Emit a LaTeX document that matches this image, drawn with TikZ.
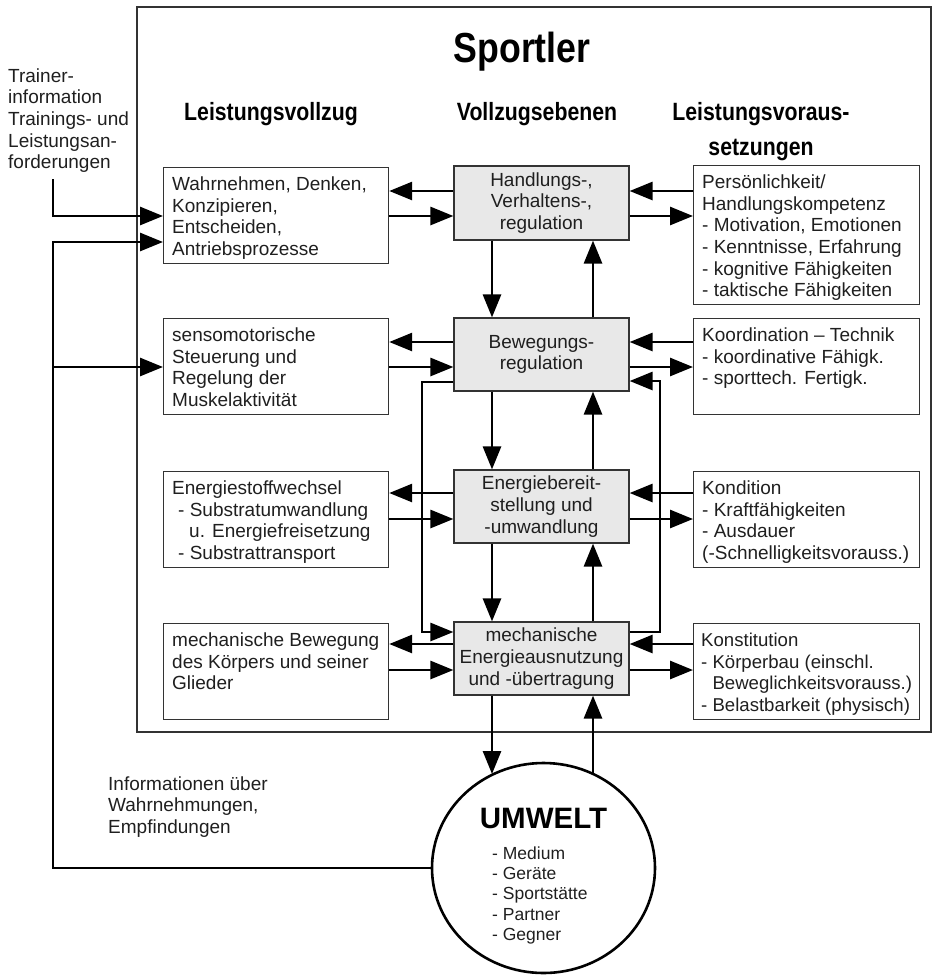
\documentclass[tikz,border=0pt]{standalone}
\usepackage{fontspec}
\setmainfont{Liberation Sans}
\newfontfamily\condfont[FakeStretch=0.85]{Liberation Sans}
\usetikzlibrary{arrows.meta,shapes.geometric}
\begin{document}
\begin{tikzpicture}[x=1pt,y=-1pt,line join=miter,
  frame/.style={draw=black!80,line width=1.5pt},
  lbox/.style={draw=black!80,line width=1.2pt,anchor=north west,inner sep=0pt,minimum width=225pt,minimum height=96pt},
  rbox/.style={draw=black!80,line width=1.2pt,anchor=north west,inner sep=0pt,minimum width=226pt},
  cbox/.style={draw=black!80,line width=1.2pt,fill=black!9,inner sep=0pt,minimum width=175pt,minimum height=73pt,align=center,
    font=\fontsize{19}{21.7}\selectfont,text=black!88},
  txt/.style={anchor=north west,inner sep=0pt,align=left,font=\fontsize{19}{21.7}\selectfont,text=black!88},
  head/.style={inner sep=0pt,anchor=base,font=\condfont\bfseries\fontsize{25}{35}\selectfont},
  arr/.style={line width=2.8pt,-{Triangle[length=23pt,width=18pt]}},
  fline/.style={line width=2.8pt}]
\useasboundingbox (0,0) rectangle (933,975);
% frame
\draw[frame] (137,7) rectangle (931,732);
% titles
\node[head,font=\condfont\bfseries\fontsize{42}{44}\selectfont] (title) at (522,62) {Sportler};
\node[head] (h1) at (271,120) {Leistungsvollzug};
\node[head] (h2) at (537,120) {Vollzugsebenen};
\node[head,anchor=north,align=center] (h3) at (761,95.5) {\strut Leistungsvoraus-\\setzungen};
% left boxes
\node[lbox] (L1) at (163,167) {};
\node[lbox] (L2) at (163,318) {};
\node[lbox] (L3) at (163,471) {};
\node[lbox] (L4) at (163,623) {};
\node[txt] (L1t) at ([shift={(9,8)}]L1.north west) {\strut Wahrnehmen, Denken,\\Konzipieren,\\Entscheiden,\\Antriebsprozesse};
\node[txt] (L2t) at ([shift={(9,8)}]L2.north west) {\strut sensomotorische\\Steuerung und\\Regelung der\\Muskelaktivität};
\node[txt] (L3t) at ([shift={(9,8)}]L3.north west) {\strut Energiestoffwechsel\\\hspace*{6pt}- Substratumwandlung\\\hspace*{17pt}u. Energiefreisetzung\\\hspace*{6pt}- Substrattransport};
\node[txt] (L4t) at ([shift={(9,8)}]L4.north west) {\strut mechanische Bewegung\\des Körpers und seiner\\Glieder};
% center boxes
\node[cbox,minimum height=74pt] (C1) at (541.5,203) {Handlungs-,\\Verhaltens-,\\regulation};
\node[cbox] (C2) at (541.5,354.5) {Bewegungs-\\regulation};
\node[cbox] (C3) at (541.5,506.5) {Energiebereit-\\stellung und\\-umwandlung};
\node[cbox] (C4) at (541.5,658.5) {mechanische\\Energieausnutzung\\und -übertragung};
% right boxes
\node[rbox,minimum height=139pt] (R1) at (693,165) {};
\node[rbox,minimum height=96pt] (R2) at (693,318) {};
\node[rbox,minimum height=96pt] (R3) at (693,471) {};
\node[rbox,minimum height=96pt] (R4) at (693,623) {};
\node[txt] (R1t) at ([shift={(9,8)}]R1.north west) {\strut Persönlichkeit/\\Handlungskompetenz\\- Motivation, Emotionen\\- Kenntnisse, Erfahrung\\- kognitive Fähigkeiten\\- taktische Fähigkeiten};
\node[txt] (R2t) at ([shift={(9,8)}]R2.north west) {\strut Koordination -- Technik\\- koordinative Fähigk.\\- sporttech. Fertigk.};
\node[txt] (R3t) at ([shift={(9,8)}]R3.north west) {\strut Kondition\\- Kraftfähigkeiten\\- Ausdauer\\(-Schnelligkeitsvorauss.)};
\node[txt,font=\fontsize{18.6}{21.7}\selectfont] (R4t) at ([shift={(8,8)}]R4.north west) {\strut Konstitution\\- Körperbau (einschl.\\\phantom{- }Beweglichkeitsvorauss.)\\- Belastbarkeit (physisch)};
% Umwelt
\node[ellipse,draw,line width=2.6pt,minimum width=223pt,minimum height=210pt,inner sep=0pt] (U) at (543.5,868) {};
\node[inner sep=0pt,font=\bfseries\fontsize{29.5}{31}\selectfont] (Ut) at (543.5,818) {UMWELT};
\node[txt,font=\fontsize{17.5}{20.4}\selectfont] (Ul) at (492,844.7) {\strut - Medium\\- Geräte\\- Sportstätte\\- Partner\\- Gegner};
% outside texts
\node[txt] (trainer) at (8,66.8) {\strut Trainer-\\information\\Trainings- und\\Leistungsan-\\forderungen};
\node[txt] (info) at (108,774.8) {\strut Informationen über\\Wahrnehmungen,\\Empfindungen};
% row arrows
\foreach \r/\u/\l in {1/191/216,2/342/367,3/493/519,4/644/670}{
  \draw[arr] (C\r.west |- 0,\u) -- (L\r.east |- 0,\u);
  \draw[arr] (L\r.east |- 0,\l) -- (C\r.west |- 0,\l);
  \draw[arr] (R\r.west |- 0,\u) -- (C\r.east |- 0,\u);
  \draw[arr] (C\r.east |- 0,\l) -- (R\r.west |- 0,\l);
}
% vertical arrows
\foreach \a/\b in {1/2,2/3,3/4}{
  \draw[arr] (C\a.south -| 492,0) -- (C\b.north -| 492,0);
  \draw[arr] (C\b.north -| 593,0) -- (C\a.south -| 593,0);
}
\coordinate (Ud) at (492,774);
\coordinate (Uu) at (593,774);
\draw[arr] (C4.south -| 492,0) -- (Ud);
\draw[arr] (Uu) -- (C4.south -| 593,0);
% inner loops
\coordinate (LL) at (422,382);
\coordinate (RL) at (660,632);
\draw[arr] (C2.west |- LL) -- (LL) |- (C4.west |- 0,632);
\draw[arr] (C4.east |- RL) -- (RL) |- (C2.east |- 0,381);
% trainer input
\coordinate (T0) at (53,179);
\draw[arr] (T0) |- (L1.west |- 0,216);
% feedback from environment
\coordinate (FB) at (53,242);
\draw[arr] (U.west) -| (FB) -- (L1.west |- FB);
\draw[arr] (FB |- 0,367) -- (L2.west |- 0,367);
\end{tikzpicture}
\end{document}
